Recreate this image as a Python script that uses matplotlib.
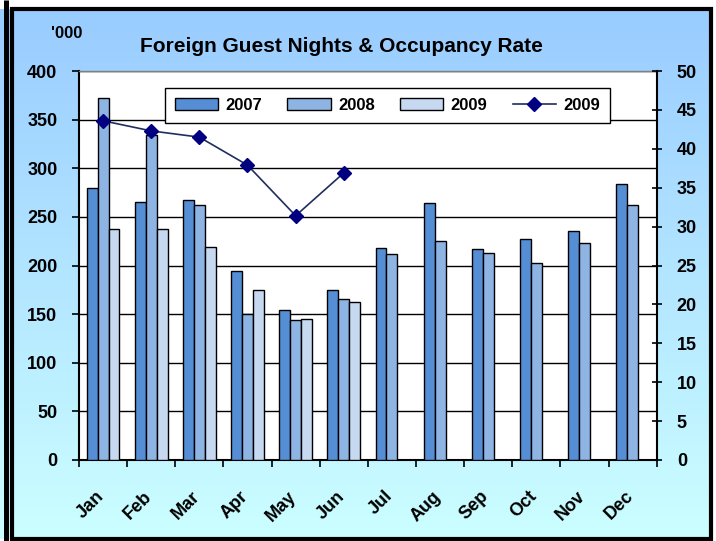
import numpy as np
import matplotlib
matplotlib.use('Agg')
import matplotlib.pyplot as plt
import matplotlib.transforms as mtransforms
from matplotlib.colors import LinearSegmentedColormap
from matplotlib.patches import Rectangle, Patch
from matplotlib.lines import Line2D

plt.rcParams['font.family'] = ['Liberation Sans', 'DejaVu Sans']

# Data
months = ['Jan', 'Feb', 'Mar', 'Apr', 'May', 'Jun',
          'Jul', 'Aug', 'Sep', 'Oct', 'Nov', 'Dec']
nights_2007 = [280, 265, 267, 194, 154, 175, 218, 264, 217, 227, 235, 284]
nights_2008 = [372, 334, 262, 150, 144, 166, 212, 225, 213, 203, 223, 262]
nights_2009 = [238, 238, 219, 175, 145, 162]
occupancy_2009 = [43.6, 42.3, 41.5, 37.9, 31.4, 36.9]
left_ticks = list(range(0, 401, 50))
right_ticks = list(range(0, 51, 5))

c2007 = '#558ED5'
c2008 = '#8EB4E3'
c2009 = '#C6D9F1'

W, H = 716, 541
fig = plt.figure(figsize=(W / 100, H / 100), dpi=100)
fig.patch.set_facecolor('white')

# Background gradient and frame (pixel coordinates)
bg = fig.add_axes([0, 0, 1, 1], zorder=-5)
bg.set_xlim(0, W)
bg.set_ylim(H, 0)
bg.axis('off')
cmap = LinearSegmentedColormap.from_list('bg', ['#99CCFF', '#CCFFFF'])
grad = np.linspace(0, 1, 256).reshape(-1, 1)
bg.imshow(grad, extent=(0, 711, 539, 9), aspect='auto', cmap=cmap)
bg.add_patch(Rectangle((12, 9), 699, 530, fill=False, edgecolor='black', lw=3))
bg.plot([5.5, 5.5], [0, H], color='black', lw=3.6, solid_capstyle='butt')

# Main axes
ax = fig.add_axes([79 / W, (H - 460) / H, (656.7 - 79) / W, (460 - 71) / H])
ax.set_facecolor('white')
x = np.arange(len(months)) + 0.5
w = 0.227
ax.bar(x - w, nights_2007, w, color=c2007, edgecolor='black', lw=1, zorder=3)
ax.bar(x, nights_2008, w, color=c2008, edgecolor='black', lw=1, zorder=3)
ax.bar(x[:len(nights_2009)] + w, nights_2009, w, color=c2009,
       edgecolor='black', lw=1, zorder=3)

ax.set_xlim(0, 12)
ax.set_ylim(0, 400)
ax.set_yticks(left_ticks)
ax.yaxis.grid(True, color='black', lw=1)
ax.set_axisbelow(True)

ax.set_xticks(np.arange(0, 13))
ax.tick_params(axis='x', which='major', direction='out', length=5, width=1.2,
               labelbottom=False)
ax.set_xticks(x, minor=True)
ax.set_xticklabels(months, minor=True, rotation=45, ha='right',
                   fontsize=13, fontweight='bold')
ax.tick_params(axis='x', which='minor', length=0, pad=20)
shift = mtransforms.ScaledTranslation(4 / 100, 0, fig.dpi_scale_trans)
for lbl in ax.xaxis.get_minorticklabels():
    lbl.set_transform(lbl.get_transform() + shift)
ax.tick_params(axis='y', direction='out', length=5, width=1.2, pad=10.5,
               labelsize=13)
for lbl in ax.get_yticklabels():
    lbl.set_fontweight('bold')

ax.spines['top'].set_color('#808080')
ax.spines['top'].set_linewidth(1)
ax.spines['right'].set_visible(False)
ax.spines['left'].set_linewidth(1.5)
ax.spines['bottom'].set_linewidth(1.5)

# Occupancy rate on the right axis
ax2 = ax.twinx()
ax2.set_ylim(0, 50)
ax2.set_yticks(right_ticks)
ax2.plot(x[:len(occupancy_2009)], occupancy_2009, color='#1F2E5C', lw=1.2,
         marker='D', ms=7, mfc='#000080', mec='#000080', zorder=5)
ax2.tick_params(axis='y', direction='inout', length=7, width=1.2, pad=11,
                labelsize=13)
for lbl in ax2.get_yticklabels():
    lbl.set_fontweight('bold')
for s in ['top', 'left', 'bottom']:
    ax2.spines[s].set_visible(False)
ax2.spines['right'].set_linewidth(1.5)

handles = [
    Patch(facecolor=c2007, edgecolor='black', lw=1, label='2007'),
    Patch(facecolor=c2008, edgecolor='black', lw=1, label='2008'),
    Patch(facecolor=c2009, edgecolor='black', lw=1, label='2009'),
    Line2D([], [], color='#1F2E5C', lw=1.2, marker='D', ms=7,
           mfc='#000080', mec='#000080', label='2009'),
]
leg = ax2.legend(handles=handles, ncol=4, loc='center',
                 bbox_to_anchor=(387.5 / W, 1 - 105.5 / H),
                 bbox_transform=fig.transFigure,
                 prop={'weight': 'bold', 'size': 12},
                 frameon=True, fancybox=False, framealpha=1,
                 edgecolor='black', handlelength=2.6, handletextpad=0.45,
                 columnspacing=1.5, borderpad=0.6)
leg.get_frame().set_linewidth(1)

fig.text(341 / W, 1 - 46 / H, 'Foreign Guest Nights & Occupancy Rate',
         ha='center', va='center', fontsize=15, fontweight='bold')
fig.text(67 / W, 1 - 33 / H, "'000", ha='center', va='center',
         fontsize=12, fontweight='bold')

fig.savefig('out.png', dpi=100, facecolor='white')
